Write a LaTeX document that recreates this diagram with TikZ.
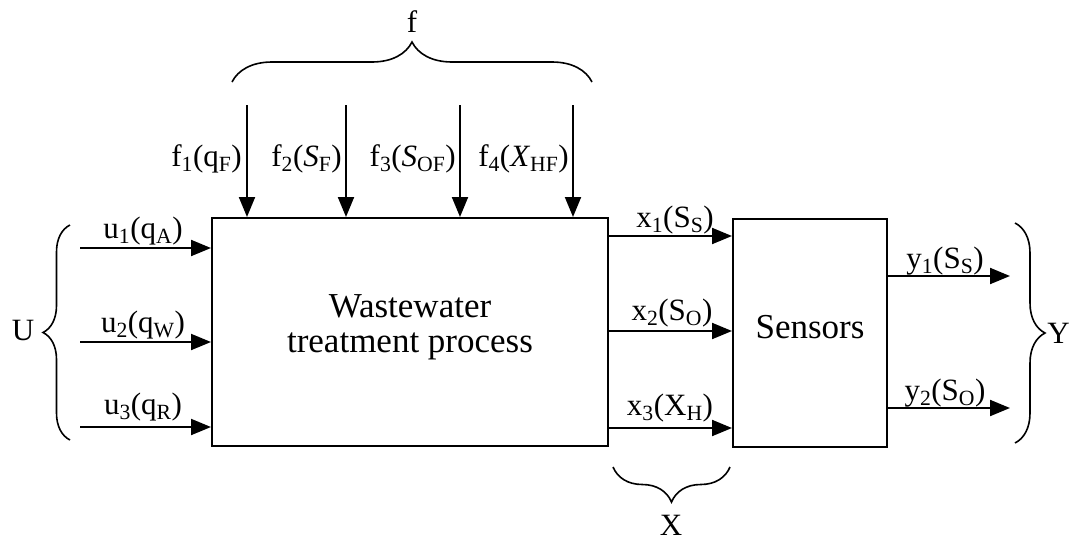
\documentclass[tikz,border=0pt]{standalone}
\usepackage{fontspec}
\setmainfont{Liberation Serif}
\usetikzlibrary{arrows.meta,decorations.pathreplacing}
\tikzset{
  arr/.style={line width=2pt,-{Triangle[length=20pt,width=16pt]}},
  blk/.style={draw,line width=2pt,inner sep=0pt},
  lbl/.style={inner sep=0pt,font=\fontsize{31}{36}\selectfont},
  big/.style={inner sep=0pt,font=\fontsize{35}{35}\selectfont},
  let/.style={inner sep=0pt,font=\fontsize{31}{36}\selectfont},
  brc/.style={decorate,line width=1.6pt,decoration={brace,amplitude=#1}},
}
\begin{document}
\begin{tikzpicture}[x=1pt,y=-1pt]
\useasboundingbox[fill=white] (0,0) rectangle (1070,544);
% boxes
\node[blk,minimum width=396pt,minimum height=228pt] (main) at (410,332) {};
\node[big,align=center,anchor=base] (maintext) at (410,352) {Wastewater\\treatment process};
\node[blk,minimum width=154pt,minimum height=228pt] (sens) at (810,333) {};
\node[big] (senstext) at (810,327) {Sensors};
% inputs u
\coordinate (u1s) at (80,248);
\coordinate (u2s) at (80,342);
\coordinate (u3s) at (80,427);
\draw[arr] (u1s) -- (u1s -| main.west);
\draw[arr] (u2s) -- (u2s -| main.west);
\draw[arr] (u3s) -- (u3s -| main.west);
\node[lbl,anchor=base] (u1) at (143,238) {u\textsubscript{1}(q\textsubscript{A})};
\node[lbl,anchor=base] (u2) at (143,332) {u\textsubscript{2}(q\textsubscript{W})};
\node[lbl,anchor=base] (u3) at (143,414) {u\textsubscript{3}(q\textsubscript{R})};
% disturbances f
\coordinate (f1s) at (247,105);
\coordinate (f2s) at (346,105);
\coordinate (f3s) at (460,105);
\coordinate (f4s) at (573,105);
\draw[arr] (f1s) -- (f1s |- main.north);
\draw[arr] (f2s) -- (f2s |- main.north);
\draw[arr] (f3s) -- (f3s |- main.north);
\draw[arr] (f4s) -- (f4s |- main.north);
\node[lbl,anchor=base east] (f1) at (242,166) {f\textsubscript{1}(q\textsubscript{F})};
\node[lbl,anchor=base east] (f2) at (342,166) {f\textsubscript{2}(\textit{S}\textsubscript{F})};
\node[lbl,anchor=base east] (f3) at (456,166) {f\textsubscript{3}(\textit{S}\textsubscript{OF})};
\node[lbl,anchor=base east] (f4) at (569,166) {f\textsubscript{4}(\textit{X}\textsubscript{HF})};
% states x
\coordinate (x1s) at (608,236);
\coordinate (x2s) at (608,331);
\coordinate (x3s) at (608,428);
\draw[arr] (x1s) -- (x1s -| sens.west);
\draw[arr] (x2s) -- (x2s -| sens.west);
\draw[arr] (x3s) -- (x3s -| sens.west);
\node[lbl,anchor=base] (x1) at (675,227) {x\textsubscript{1}(S\textsubscript{S})};
\node[lbl,anchor=base] (x2) at (672,320) {x\textsubscript{2}(S\textsubscript{O})};
\node[lbl,anchor=base] (x3) at (670,415) {x\textsubscript{3}(X\textsubscript{H})};
% outputs y
\coordinate (y1e) at (1010,276);
\coordinate (y2e) at (1010,408);
\draw[arr] (y1e -| sens.east) -- (y1e);
\draw[arr] (y2e -| sens.east) -- (y2e);
\node[lbl,anchor=base] (y1) at (945,268) {y\textsubscript{1}(S\textsubscript{S})};
\node[lbl,anchor=base] (y2) at (945,400) {y\textsubscript{2}(S\textsubscript{O})};
% braces
\draw[brc=40pt] (232,82) -- (592,82);
\node[let] (fl) at (412,22) {f};
\draw[brc=27pt] (70,440) -- (70,225);
\node[let] (Ul) at (23,330) {U};
\draw[brc=30pt] (1015,223) -- (1015,443);
\node[let,anchor=east] (Yl) at (1070,333) {Y};
\draw[brc=35pt] (730,467) -- (613,467);
\node[let] (Xl) at (671,525) {X};
\end{tikzpicture}
\end{document}
